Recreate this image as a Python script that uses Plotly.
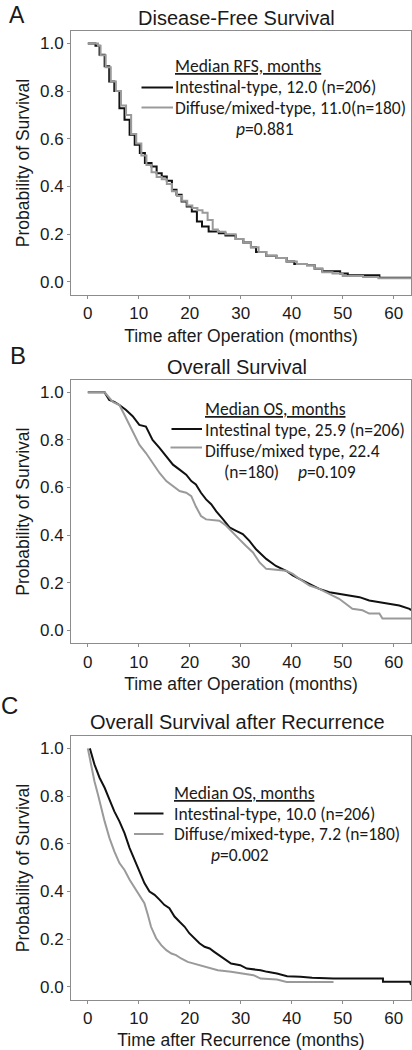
import plotly.graph_objects as go

W, H = 412, 1050

# ---------------- Data ----------------
# Panel A: Disease-free (relapse-free) survival
rfs_int_t = [0, 1.5, 2.3, 3.3, 4.2, 5.2, 6.2, 7.2, 8.2, 9.2, 10.2, 11.2, 12.5, 13.5, 14.5, 15.5,
             16.5, 17.4, 18.4, 19.4, 20.4, 21.4, 22.4, 23.7, 25.7, 27, 29, 30.5, 32, 33, 35, 37,
             39, 40.5, 43, 44.5, 46, 49.5, 51, 57.2, 63.4]
rfs_int_s = [1.0, 0.99, 0.952, 0.904, 0.84, 0.80, 0.728, 0.68, 0.617, 0.575, 0.54, 0.498, 0.484,
             0.456, 0.442, 0.424, 0.386, 0.365, 0.337, 0.316, 0.295, 0.253, 0.232, 0.211, 0.204,
             0.195, 0.18, 0.165, 0.145, 0.125, 0.11, 0.10, 0.085, 0.075, 0.07, 0.055, 0.045,
             0.035, 0.028, 0.017, 0.017]
rfs_dif_t = [0, 2.0, 2.5, 3.5, 4.5, 5.5, 6.5, 7.5, 8.5, 9.5, 10.5, 11.5, 12.5, 13.5, 14.5, 15.5,
             16.5, 17.5, 18.5, 19.5, 20.5, 21.5, 22.5, 23.5, 24.5, 25.5, 27, 29, 30.5, 32, 33.5,
             35, 37, 39, 41, 43, 44.5, 46, 48, 50, 54, 57, 63.4]
rfs_dif_s = [1.0, 0.99, 0.95, 0.90, 0.84, 0.80, 0.74, 0.70, 0.62, 0.58, 0.53, 0.49, 0.46, 0.44,
             0.43, 0.41, 0.38, 0.36, 0.34, 0.32, 0.31, 0.30, 0.29, 0.26, 0.22, 0.21, 0.20, 0.18,
             0.165, 0.145, 0.125, 0.11, 0.10, 0.085, 0.075, 0.07, 0.055, 0.04, 0.035, 0.025,
             0.02, 0.015, 0.015]

# Panel B: Overall survival
os_int_t = [0, 3.3, 4.2, 5.2, 6.2, 7.5, 8.8, 10.1, 11.4, 12.7, 14.1, 15.4, 16.7, 18.0, 19.3, 20.3,
            21.2, 22.2, 23.2, 24.2, 25.2, 26.5, 27.8, 29.1, 30.4, 31.7, 33.0, 35.0, 36.9, 38.9,
            40.2, 41.5, 43.5, 45.4, 47.4, 49.3, 51.3, 53.3, 55.2, 57.2, 59.2, 61.1, 63.1, 63.4]
os_int_s = [1.0, 1.0, 0.968, 0.96, 0.947, 0.926, 0.90, 0.863, 0.856, 0.80, 0.766, 0.73, 0.696,
            0.675, 0.654, 0.627, 0.613, 0.578, 0.55, 0.53, 0.50, 0.467, 0.432, 0.418, 0.404,
            0.376, 0.34, 0.30, 0.27, 0.25, 0.23, 0.216, 0.195, 0.174, 0.16, 0.153, 0.146, 0.139,
            0.125, 0.118, 0.111, 0.104, 0.09, 0.084]
os_dif_t = [0, 3.3, 4.9, 6.2, 7.2, 8.2, 9.2, 10.1, 11.4, 12.7, 14.1, 15.4, 16.7, 18.0, 19.3, 20.3,
            21.2, 22.2, 23.2, 25.8, 27.1, 28.4, 29.7, 31.0, 32.4, 33.7, 35.0, 38.9, 40.2, 41.5,
            43.5, 45.4, 47.4, 49.3, 50.6, 51.9, 53.9, 55.2, 57.2, 57.8, 63.4]
os_dif_s = [1.0, 1.0, 0.96, 0.947, 0.905, 0.863, 0.815, 0.78, 0.745, 0.703, 0.66, 0.627, 0.606,
            0.585, 0.578, 0.564, 0.52, 0.48, 0.466, 0.46, 0.44, 0.41, 0.383, 0.355, 0.327, 0.285,
            0.258, 0.25, 0.237, 0.216, 0.188, 0.174, 0.153, 0.132, 0.111, 0.09, 0.084, 0.07,
            0.07, 0.049, 0.049]

# Panel C: Overall survival after recurrence
osr_int_t = [0.4, 1.3, 2.3, 3.3, 4.25, 5.2, 6.2, 7.2, 8.2, 9.2, 10.1, 11.1, 12.1, 13.1, 14.1, 15.0,
             16.0, 17.0, 18.0, 19.0, 19.9, 20.9, 21.9, 22.9, 23.9, 24.8, 25.8, 26.8, 28.1, 29.9,
             31.2, 33.9, 35.2, 37.1, 39.1, 41.7, 44.0, 48.2, 57.9, 57.9, 63.2, 63.4]
osr_int_s = [1.0, 0.933, 0.877, 0.835, 0.785, 0.736, 0.694, 0.645, 0.582, 0.533, 0.49, 0.435,
             0.40, 0.386, 0.365, 0.344, 0.33, 0.295, 0.273, 0.252, 0.225, 0.204, 0.183, 0.168,
             0.161, 0.147, 0.133, 0.119, 0.098, 0.091, 0.077, 0.07, 0.063, 0.056, 0.045, 0.042,
             0.038, 0.035, 0.035, 0.022, 0.022, 0.008]
osr_dif_t = [0, 0.65, 1.3, 2.0, 2.6, 3.3, 4.25, 5.2, 6.2, 7.2, 8.2, 9.2, 10.1, 11.1, 11.8, 12.4,
             13.4, 14.4, 15.4, 16.4, 17.3, 18.3, 19.6, 20.9, 22.9, 25.5, 28.1, 29.9, 32.5, 33.9,
             37.1, 39.0, 48.2]
osr_dif_s = [1.0, 0.933, 0.862, 0.806, 0.75, 0.694, 0.624, 0.568, 0.519, 0.49, 0.449, 0.414,
             0.386, 0.351, 0.30, 0.252, 0.204, 0.175, 0.154, 0.14, 0.133, 0.119, 0.105, 0.098,
             0.084, 0.07, 0.063, 0.056, 0.049, 0.035, 0.031, 0.021, 0.021]

x_ticks = [0, 10, 20, 30, 40, 50, 60]
y_ticks = [0.0, 0.2, 0.4, 0.6, 0.8, 1.0]
y_tick_labels = ["0.0", "0.2", "0.4", "0.6", "0.8", "1.0"]

panels = [
    dict(letter="A", title="Disease-Free Survival", xtitle="Time after Operation (months)", shape="hv",
         curves=[(rfs_int_t, rfs_int_s, "Intestinal-type"), (rfs_dif_t, rfs_dif_s, "Diffuse/mixed-type")]),
    dict(letter="B", title="Overall Survival", xtitle="Time after Operation (months)", shape="linear",
         curves=[(os_int_t, os_int_s, "Intestinal type"), (os_dif_t, os_dif_s, "Diffuse/mixed type")]),
    dict(letter="C", title="Overall Survival after Recurrence", xtitle="Time after Recurrence (months)",
         shape="linear",
         curves=[(osr_int_t, osr_int_s, "Intestinal-type"), (osr_dif_t, osr_dif_s, "Diffuse/mixed-type")]),
]

# ---------------- Layout helpers (pixel -> paper) ----------------
def px(x):
    return x / W

def py(y):
    return 1 - y / H

BLACK = "#111111"
GRAY = "#9a9a9a"
AXIS_FONT = "Liberation Sans, Arial, sans-serif"
LEG_FONT = "Carlito, Lato, sans-serif"
TXT = "#1a1a1a"

# box pixel extents: (top, bottom)
boxes = [(31, 295), (380, 643.3), (736, 1000)]
x_left, x_right = 71.0, 411.0

fig = go.Figure()
layout = dict(width=W, height=H, margin=dict(l=0, r=0, t=0, b=0),
              paper_bgcolor="white", plot_bgcolor="white", showlegend=False)

colors = [BLACK, GRAY]
for i, p in enumerate(panels):
    k = "" if i == 0 else str(i + 1)
    xa, ya = "x" + k, "y" + k
    for (t, s, name), c in zip(p["curves"], colors):
        fig.add_trace(go.Scatter(x=t, y=s, mode="lines", name=name, xaxis=xa, yaxis=ya,
                                 line=dict(color=c, width=2, shape=p["shape"])))
    top, bot = boxes[i]
    axis_common = dict(showgrid=False, zeroline=False, showline=True, mirror=True,
                       linecolor="#8c8c8c", linewidth=1, ticks="outside", ticklen=3,
                       tickcolor="#8c8c8c", tickfont=dict(family=AXIS_FONT, size=17, color=TXT),
                       fixedrange=True)
    layout["xaxis" + k] = dict(axis_common, domain=[px(x_left), px(x_right)], range=[-3.3, 63.4],
                               tickvals=x_ticks, anchor=ya,
                               title=dict(text=p["xtitle"], standoff=7,
                                          font=dict(family=AXIS_FONT, size=17.5, color=TXT)))
    layout["yaxis" + k] = dict(axis_common, domain=[py(bot), py(top)], range=[-0.055, 1.052],
                               tickvals=y_ticks, ticktext=y_tick_labels, anchor=xa,
                               title=dict(text="Probability of Survival", standoff=5,
                                          font=dict(family=AXIS_FONT, size=17.5, color=TXT)))

annotations = []
def ann(text, x, y, size, family=AXIS_FONT, xanchor="center", color=TXT, yanchor="middle"):
    annotations.append(dict(text=text, x=px(x), y=py(y), xref="paper", yref="paper",
                            xanchor=xanchor, yanchor=yanchor, showarrow=False,
                            font=dict(family=family, size=size, color=color)))

# panel letters and titles
ann("A", 16.5, 0, 23, yanchor="top")
ann("B", 17.5, 355, 24)
ann("C", 9.5, 705, 24)
ann(panels[0]["title"], 236, 17.5, 20)
ann(panels[1]["title"], 237, 366.5, 20)
ann(panels[2]["title"], 237, 721.5, 20)

LS = 17.5
# Panel A legend block
ann("<u>Median RFS, months</u>", 172.5, 65.5, LS, LEG_FONT, "left")
ann("Intestinal-type, 12.0 (n=206)", 173, 87, LS, LEG_FONT, "left")
ann("Diffuse/mixed-type, 11.0(n=180)", 173, 108, LS, LEG_FONT, "left")
ann("<i>p</i>=0.881", 265, 128.5, LS, LEG_FONT)
# Panel B legend block
ann("<u>Median OS, months</u>", 202.5, 409, LS, LEG_FONT, "left")
ann("Intestinal type, 25.9 (n=206)", 202.5, 430, LS, LEG_FONT, "left")
ann("Diffuse/mixed type, 22.4", 202.5, 451.5, LS, LEG_FONT, "left")
ann("(n=180)", 221.5, 472.5, LS, LEG_FONT, "left")
ann("<i>p</i>=0.109", 295.5, 472.5, LS, LEG_FONT, "left")
# Panel C legend block
ann("<u>Median OS, months</u>", 171.5, 792.5, LS, LEG_FONT, "left")
ann("Intestinal-type, 10.0 (n=206)", 171.5, 813.5, LS, LEG_FONT, "left")
ann("Diffuse/mixed-type, 7.2 (n=180)", 171.5, 834, LS, LEG_FONT, "left")
ann("<i>p</i>=0.002", 240, 855, LS, LEG_FONT)

# legend key lines (paper-referenced)
shapes = []
def key(x0, x1, y, color):
    shapes.append(dict(type="line", xref="paper", yref="paper", x0=px(x0), x1=px(x1),
                       y0=py(y), y1=py(y), line=dict(color=color, width=2)))

key(141.5, 173, 87.5, BLACK)
key(141.5, 173, 107.5, GRAY)
key(171.5, 202, 429, BLACK)
key(170.5, 202, 447.5, GRAY)
key(134, 163.5, 813.5, BLACK)
key(134, 163.5, 834, GRAY)

layout["annotations"] = annotations
layout["shapes"] = shapes
fig.update_layout(**layout)
fig.write_html("out.html", config={"displayModeBar": False},
               post_script="document.body.style.margin='0';")
